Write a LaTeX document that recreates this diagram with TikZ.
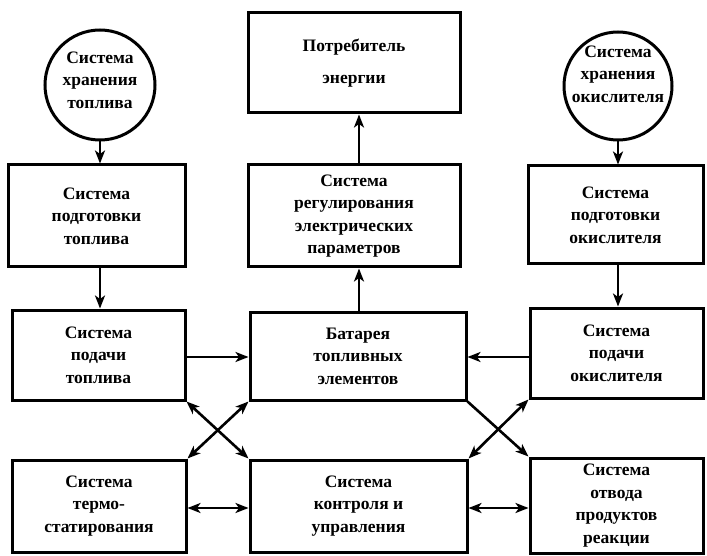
\documentclass[tikz,border=0pt]{standalone}
\usepackage{fontspec}
\setmainfont{Liberation Serif}
\usetikzlibrary{arrows.meta}
\tikzset{
  txt/.style={align=center, inner sep=0pt, font=\bfseries\fontsize{17.5}{22.5}\selectfont},
  blk/.style={txt, draw, line width=3pt, rectangle},
  circ/.style={draw, line width=3pt, circle, inner sep=0pt},
  tip/.tip={Stealth[length=13pt,width=10pt,inset=3.5pt]},
  arr/.style={line width=2.6pt, -tip},
  darr/.style={line width=2.6pt, tip-tip}
}
\begin{document}
\begin{tikzpicture}[x=1pt,y=-1pt]
\useasboundingbox (0,0) rectangle (707,556);
% circles
\node[circ, minimum size=110pt] (cF) at (100,85) {};
\node[txt] (tF) at (100,80) {Система\\хранения\\топлива};
\node[circ, minimum size=108pt] (cO) at (618,86) {};
\node[txt] (tO) at (618,74) {Система\\хранения\\окислителя};
% top column
\node[blk, minimum width=212pt, minimum height=100pt] (pot) at (354,63) {Потребитель\\[9pt]энергии};
\node[blk, minimum width=212pt, minimum height=102pt] (reg) at (354,216) {Система\\регулирования\\электрических\\параметров};
% preparation
\node[blk, minimum width=177pt, minimum height=102pt] (prF) at (96.5,216) {Система\\подготовки\\топлива};
\node[blk, minimum width=175pt, minimum height=98pt] (prO) at (615.5,215) {Система\\подготовки\\окислителя};
% supply row
\node[blk, minimum width=173pt, minimum height=90pt] (suF) at (98.5,355) {Система\\подачи\\топлива};
\node[blk, minimum width=216pt, minimum height=88pt] (bat) at (358,356) {Батарея\\топливных\\элементов};
\node[blk, minimum width=173pt, minimum height=90pt] (suO) at (616.5,353) {Система\\подачи\\окислителя};
% bottom row
\node[blk, minimum width=174pt, minimum height=92pt] (thm) at (99,506) {Система\\термо-\\статирования};
\node[blk, minimum width=217pt, minimum height=92pt] (ctl) at (358.5,506) {Система\\контроля и\\управления};
\node[blk, minimum width=173pt, minimum height=95pt] (prd) at (616.5,505.5) {Система\\отвода\\продуктов\\реакции};
% vertical arrows
\draw[arr] (cF.south) -- (prF.north -| cF.south);
\draw[arr] (prF.south -| cF.south) -- (suF.north -| cF.south);
\draw[arr] (cO.south) -- (prO.north -| cO.south);
\draw[arr] (prO.south -| cO.south) -- (suO.north -| cO.south);
\coordinate (mx) at (359,0);
\draw[arr] (bat.north -| mx) -- (reg.south -| mx);
\draw[arr] (reg.north -| mx) -- (pot.south -| mx);
% horizontal arrows
\coordinate (y1) at (0,357);
\draw[arr] (suF.east |- y1) -- (bat.west |- y1);
\draw[arr] (suO.west |- y1) -- (bat.east |- y1);
\coordinate (y2) at (0,508);
\draw[darr] (thm.east |- y2) -- (ctl.west |- y2);
\draw[darr] (prd.west |- y2) -- (ctl.east |- y2);
% diagonals
\draw[darr] (suF.south east) -- (ctl.north west);
\draw[darr] (thm.north east) -- (bat.south west);
\draw[arr] (bat.south east) -- (prd.north west);
\draw[darr] (ctl.north east) -- (suO.south west);
\end{tikzpicture}
\end{document}
